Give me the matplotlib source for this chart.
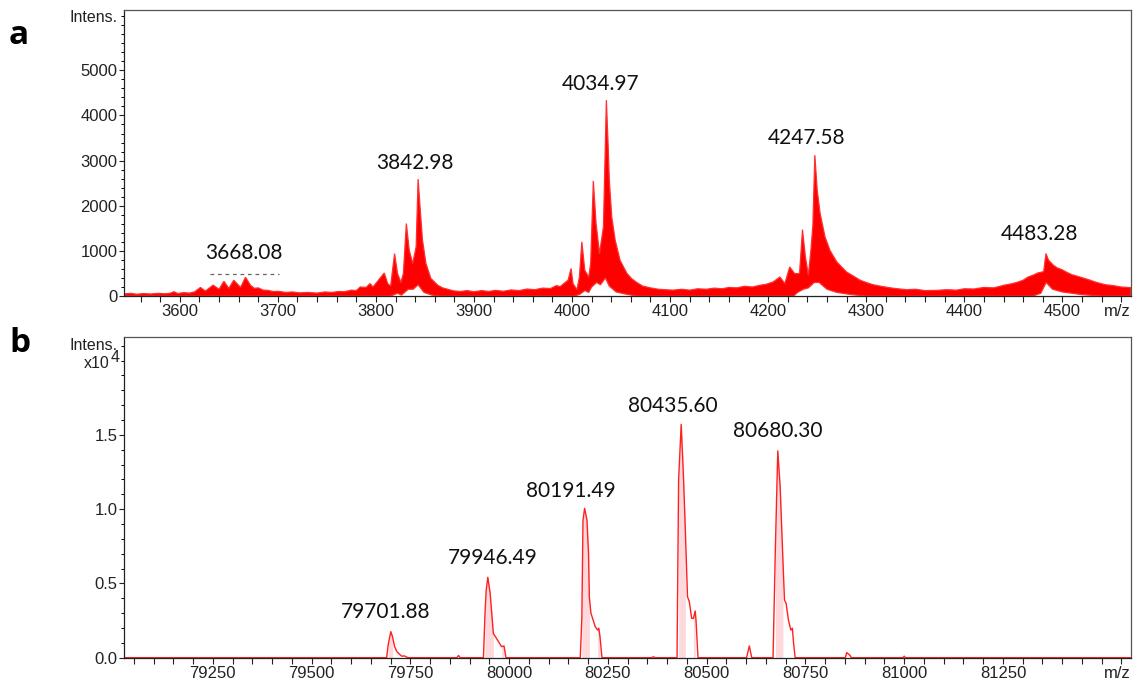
import matplotlib.pyplot as plt
from matplotlib.ticker import MultipleLocator, FormatStrFormatter
import numpy as np

# ---- panel a: dense noisy spectrum, drawn as a band between two envelopes ----
a_up_mz = [3543, 3550, 3556, 3563, 3570, 3578, 3585, 3590, 3594, 3598, 3604, 3610, 3615,
           3621, 3626, 3634, 3640, 3645, 3650, 3655, 3662, 3667,
           3672, 3676, 3680, 3685, 3690, 3695, 3700, 3708, 3715, 3722, 3730, 3740,
           3748, 3755, 3762, 3768, 3775, 3780, 3784, 3790, 3794, 3797,
           3808.5, 3812, 3815, 3819, 3822, 3825.5, 3828, 3831, 3834, 3837.5, 3841,
           3843, 3845, 3847.5, 3851, 3856,
           3863, 3868, 3873, 3879, 3886, 3893, 3900, 3908, 3915, 3922, 3930, 3938,
           3946, 3954, 3962, 3970, 3978, 3984, 3988, 3993, 3996,
           3999, 4001, 4005, 4007.5, 4010, 4013, 4017, 4019, 4021.7, 4024.5, 4028,
           4032, 4035, 4036.6, 4038, 4040.5, 4044, 4049,
           4056, 4061, 4066, 4072, 4080, 4088, 4095, 4103, 4112, 4120, 4128, 4137,
           4145, 4153, 4160, 4168, 4176, 4184, 4192, 4198, 4205,
           4212, 4217, 4222, 4227, 4232, 4235, 4238, 4241, 4243.6, 4245.6, 4247.6,
           4250, 4253, 4258, 4263, 4270, 4280,
           4294, 4300, 4307, 4314, 4322, 4330, 4341, 4350, 4360, 4372, 4382, 4392,
           4400, 4410, 4420, 4430, 4441, 4448, 4455, 4460, 4465, 4470, 4475,
           4481, 4483.3, 4486,
           4491, 4495, 4499, 4505, 4510, 4518, 4527, 4535, 4544, 4552, 4560, 4570]
a_up_int = [45, 60, 40, 55, 45, 60, 50, 60, 95, 55, 75, 65, 90,
            190, 110, 240, 150, 325, 170, 350, 190, 415,
            240, 170, 180, 130, 125, 100, 105, 80, 90, 70, 80, 65,
            90, 80, 100, 95, 130, 120, 200, 190, 275, 200,
            510, 275, 220, 940, 500, 300, 500, 1605, 1010, 720, 1090,
            2590, 1970, 1235, 720, 390,
            240, 180, 150, 115, 100, 120, 95, 120, 100, 125, 105, 135,
            120, 155, 140, 175, 165, 230, 210, 300, 350,
            610, 275, 140, 420, 1200, 570, 420, 720, 2550, 1605, 940,
            1530, 4340, 3450, 2565, 1750, 1235, 790,
            500, 380, 300, 220, 180, 150, 140, 130, 150, 130, 160, 150,
            175, 160, 190, 180, 215, 200, 240, 260, 310,
            421, 275, 643, 497, 497, 1472, 865, 459, 1013, 1567, 3120,
            2344, 1827, 1308, 1013, 754, 532,
            348, 300, 250, 220, 190, 165, 140, 150, 120, 125, 140, 130,
            160, 155, 190, 180, 240, 270, 310, 350, 420, 460, 510,
            540, 940, 792,
            680, 620, 590, 520, 470, 420, 360, 300, 250, 230, 200, 186]
a_lo_mz = [3543, 3815, 3822, 3826, 3833, 3838, 3843, 3849, 3857, 3865, 4003, 4008,
           4013, 4017, 4020, 4025, 4029, 4034, 4038, 4045, 4055, 4066, 4226, 4230,
           4236, 4241, 4247, 4252, 4260, 4270, 4285, 4300, 4470, 4478, 4483.5, 4490,
           4500, 4520, 4540, 4570]
a_lo_int = [0, 0, 60, 20, 150, 150, 250, 80, 20, 0, 0, 40,
            120, 80, 200, 300, 250, 400, 220, 90, 40, 0, 0, 80,
            150, 180, 300, 300, 150, 80, 30, 0, 0, 60, 300, 150,
            90, 30, 0, 0]
a_peak_labels = ['3668.08', '3842.98', '4034.97', '4247.58', '4483.28']
a_label_mz = [3665, 3840, 4028.6, 4239.5, 4476.5]
a_label_int = [947, 2953, 4690, 3508, 1368]

# ---- panel b: smooth spectrum, intensity in units of 1e4 ----
b_mz = [79025, 79685, 79690, 79694, 79700.5, 79705, 79710, 79716, 79722, 79728, 79735,
        79740, 79745, 79868, 79872, 79876, 79935, 79939, 79942, 79946, 79952, 79960,
        79973, 79981, 79987, 79992, 80180, 80184, 80187, 80191, 80197, 80201, 80203,
        80207, 80218, 80224, 80227, 80230, 80235, 80360, 80365, 80370, 80425, 80429,
        80435.5, 80441, 80446, 80451.5, 80456, 80462, 80466.5, 80471, 80473, 80478,
        80601, 80608, 80614, 80668, 80674, 80680, 80686, 80693, 80697, 80701, 80707,
        80713, 80717, 80720, 80724, 80851, 80854.5, 80863, 80866, 80997, 81000, 81003,
        81574]
b_int = [0, 0, 0, 0.09, 0.175, 0.14, 0.075, 0.04, 0.025, 0.01, 0.012,
         0.004, 0, 0, 0.015, 0, 0, 0.30, 0.455, 0.541, 0.433, 0.164,
         0.108, 0.074, 0.079, 0, 0, 0.258, 0.926, 1.005, 0.926, 0.70, 0.41,
         0.30, 0.208, 0.186, 0.198, 0.141, 0, 0, 0.006, 0, 0, 1.198,
         1.57, 1.24, 0.859, 0.41, 0.377, 0.265, 0.265, 0.314, 0.253, 0,
         0, 0.079, 0, 0, 0.746, 1.392, 1.15, 0.657, 0.388, 0.366, 0.253,
         0.186, 0.198, 0.097, 0, 0, 0.034, 0.015, 0, 0, 0.01, 0,
         0]
b_shade = [(79694, 79705), (79939, 79960), (79981, 79987), (80184, 80203), (80224, 80230),
           (80429, 80446), (80466.5, 80471), (80674, 80693)]
b_peak_labels = ['79701.88', '79946.49', '80191.49', '80435.60', '80680.30']
b_label_mz = [79687, 79958, 80157, 80414, 80680]
b_label_int = [0.304, 0.674, 1.121, 1.694, 1.528]

tick_font = 'Liberation Sans'
peak_font = 'Lato'

fig = plt.figure(figsize=(11.37, 6.86), dpi=100)
ax1 = fig.add_axes([0.109, 0.5685, 0.8857, 0.4175])
ax2 = fig.add_axes([0.109, 0.0413, 0.8857, 0.4674])


def style_axis(ax):
    for s in ['top', 'right']:
        ax.spines[s].set_color('#555555')
        ax.spines[s].set_linewidth(0.9)
    for s in ['left', 'bottom']:
        ax.spines[s].set_color('#222222')
        ax.spines[s].set_linewidth(0.9)
    ax.tick_params(axis='x', which='both', direction='out', length=4.3, width=0.8,
                   pad=1.5, labelsize=12, colors='#222222')
    ax.tick_params(axis='y', which='major', direction='out', length=3.8, width=0.8,
                   pad=1, labelsize=12, colors='#222222')
    ax.tick_params(axis='y', which='minor', direction='out', length=1.9, width=0.7)


# panel a
xs = np.r_[a_up_mz, a_lo_mz[::-1]]
ys = np.r_[a_up_int, a_lo_int[::-1]]
ax1.fill(xs, ys, color='#ff0000', lw=0.9, ec='#ff3030', zorder=2)
ax1.set_xlim(3543, 4570)
ax1.set_ylim(0, 6345)
ax1.xaxis.set_minor_locator(MultipleLocator(20))
ax1.yaxis.set_minor_locator(MultipleLocator(200))
style_axis(ax1)
ax1.set_xticks([3600, 3700, 3800, 3900, 4000, 4100, 4200, 4300, 4400, 4500])
ax1.set_yticks([0, 1000, 2000, 3000, 4000, 5000])
for lab in ax1.get_xticklabels() + ax1.get_yticklabels():
    lab.set_fontfamily(tick_font)
for t, x, y in zip(a_peak_labels, a_label_mz, a_label_int):
    ax1.text(x, y, t, ha='center', va='center', fontsize=15, family=peak_font, color='#111111')
ax1.plot([3630.6, 3701], [481, 481], ls=(0, (3, 3)), color='#666666', lw=0.9)

# panel b
b_mz_arr = np.array(b_mz)
b_int_arr = np.array(b_int)
for lo, hi in b_shade:
    m = (b_mz_arr >= lo) & (b_mz_arr <= hi)
    ax2.fill_between(b_mz_arr, 0, b_int_arr, where=m, color='#fdd9de', lw=0, zorder=1)
ax2.plot(b_mz_arr, b_int_arr, color='#ff2020', lw=1.0, zorder=2)
ax2.set_xlim(79025, 81574)
ax2.set_ylim(0, 2.158)
ax2.xaxis.set_minor_locator(MultipleLocator(50))
ax2.yaxis.set_minor_locator(MultipleLocator(0.1))
ax2.yaxis.set_major_formatter(FormatStrFormatter('%.1f'))
style_axis(ax2)
ax2.set_xticks([79250, 79500, 79750, 80000, 80250, 80500, 80750, 81000, 81250])
ax2.set_yticks([0.0, 0.5, 1.0, 1.5])
for lab in ax2.get_xticklabels() + ax2.get_yticklabels():
    lab.set_fontfamily(tick_font)
for t, x, y in zip(b_peak_labels, b_label_mz, b_label_int):
    ax2.text(x, y, t, ha='center', va='center', fontsize=15, family=peak_font, color='#111111')

# axis captions in figure pixels
W, H = 1137, 686


def ftext(px, py, s, **kw):
    fig.text(px / W, 1 - py / H, s, **kw)


cap = dict(family=tick_font, color='#222222')
ftext(118, 18, 'Intens.', ha='right', va='center', fontsize=11.5, **cap)
ftext(118, 345, 'Intens.', ha='right', va='center', fontsize=11.5, **cap)
ftext(110, 364, 'x10', ha='right', va='center', fontsize=11.5, **cap)
ftext(110.5, 358, '4', ha='left', va='center', fontsize=11.5, **cap)
ftext(1117, 311, 'm/z', ha='center', va='center', fontsize=12, **cap)
ftext(1117, 673, 'm/z', ha='center', va='center', fontsize=12, **cap)
ftext(19, 36, 'a', ha='center', va='center', fontsize=24, weight='bold', family='Open Sans')
ftext(20, 343, 'b', ha='center', va='center', fontsize=24, weight='bold', family='Open Sans')

plt.savefig('out.png', dpi=100)
